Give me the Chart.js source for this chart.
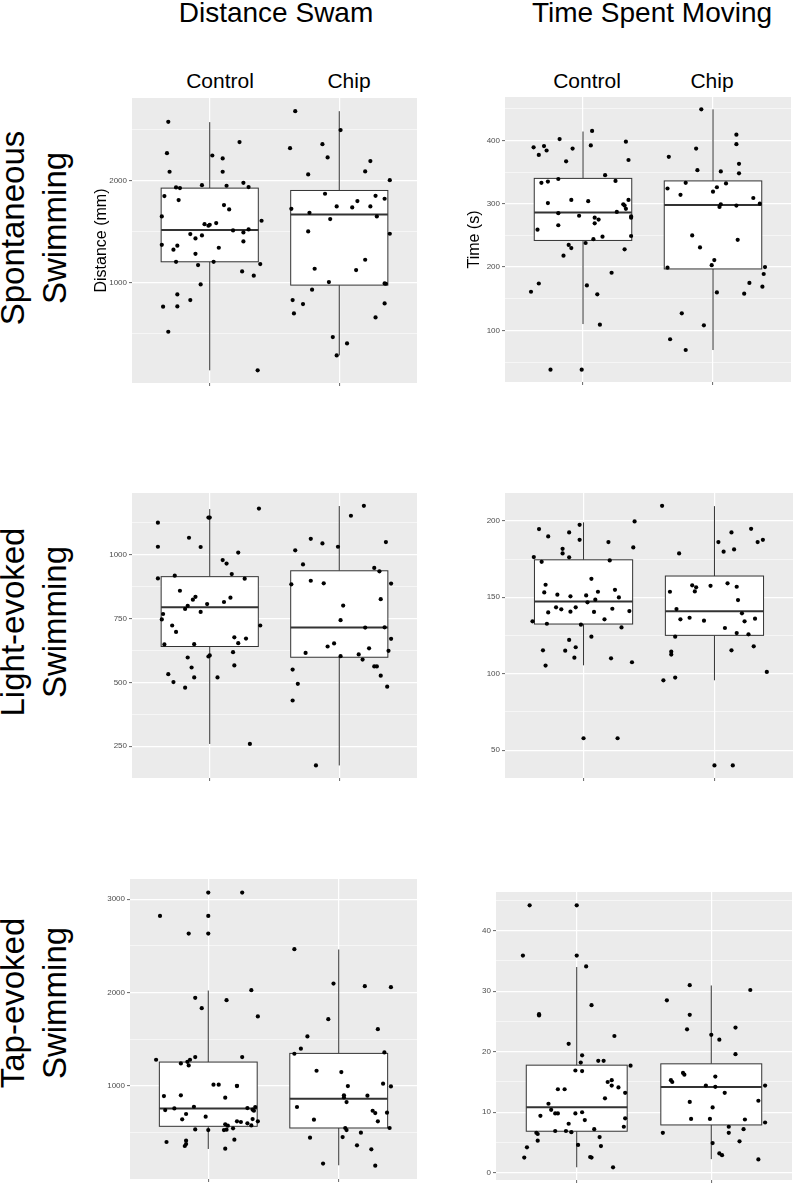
<!DOCTYPE html>
<html>
<head>
<meta charset="utf-8">
<script src="https://cdn.jsdelivr.net/npm/chart.js@4.4.0/dist/chart.umd.min.js"></script>
<style>
  body { margin: 0; background: #fff; font-family: "Liberation Sans", Arial, sans-serif; }
  #fig { position: relative; width: 800px; height: 1186px; overflow: hidden; }
  canvas { position: absolute; }
  .t { position: absolute; white-space: nowrap; color: #000; line-height: 1; transform: translateX(-50%); }
  .col { font-size: 28px; }
  .cat { font-size: 21px; }
  .row { position: absolute; font-size: 33px; line-height: 42px; text-align: center; white-space: nowrap;
         transform: translate(-50%, -50%) rotate(-90deg); }
</style>
</head>
<body>
<div id="fig">
  <div class="t col" style="left:276px; top:-1px">Distance Swam</div>
  <div class="t col" style="left:652px; top:-1px">Time Spent Moving</div>
  <div class="t cat" style="left:220px; top:70px">Control</div>
  <div class="t cat" style="left:349px; top:70px">Chip</div>
  <div class="t cat" style="left:587px; top:70px">Control</div>
  <div class="t cat" style="left:712px; top:70px">Chip</div>
  <div class="row" style="left:34px; top:228px">Spontaneous<br>Swimming</div>
  <div class="row" style="left:34px; top:622px">Light-evoked<br>Swimming</div>
  <div class="row" style="left:34px; top:1003px">Tap-evoked<br>Swimming</div>

  <canvas id="p1" width="333" height="294" style="left:88px; top:94px"></canvas>
  <canvas id="p2" width="334" height="294" style="left:461px; top:93px"></canvas>
  <canvas id="p3" width="333" height="294" style="left:88px; top:489px"></canvas>
  <canvas id="p4" width="336" height="294" style="left:461px; top:489px"></canvas>
  <canvas id="p5" width="335" height="309" style="left:86px; top:875px"></canvas>
  <canvas id="p6" width="344" height="297" style="left:452px; top:888px"></canvas>
</div>
<script>
// groups on the x axis: Control = 1, Chip = 2
const groups = ['Control', 'Chip'];
const groupPos = [1, 2];

// each point: [horizontal jitter, value]
// box stats: [lower whisker, q1, median, q3, upper whisker]

// --- Spontaneous swimming, distance (mm)
const spontDistControl = [[-0.32,2573],[-0.33,2267],[-0.31,2085],[0.02,2244],[0.10,2215],[0.23,2375],[0.10,2085],[-0.26,1932],[-0.23,1925],[-0.06,1954],[0.13,1948],[0.26,1977],[0.30,1935],[-0.35,1847],[-0.24,1808],[0.11,1759],[0.15,1717],[-0.37,1648],[-0.04,1573],[-0.01,1557],[0.00,1567],[0.05,1583],[0.40,1606],[0.18,1511],[0.26,1492],[0.30,1521],[-0.15,1476],[-0.06,1463],[-0.11,1433],[-0.37,1371],[0.26,1404],[-0.25,1362],[-0.28,1323],[0.07,1342],[-0.11,1283],[-0.26,1205],[0.03,1205],[-0.09,1173],[0.39,1183],[0.25,1111],[0.34,1069],[-0.07,984],[-0.25,886],[-0.36,766],[-0.25,769],[-0.15,831],[-0.32,521],[0.37,144]];
const spontDistChip = [[-0.34,2677],[0.01,2492],[-0.38,2316],[-0.13,2355],[-0.09,2225],[0.24,2189],[-0.24,2059],[0.20,2088],[0.39,2003],[-0.11,1870],[0.28,1850],[0.35,1821],[0.14,1798],[-0.02,1746],[0.10,1736],[0.24,1746],[-0.37,1723],[-0.23,1684],[-0.07,1622],[0.29,1648],[-0.24,1502],[0.39,1479],[-0.19,1137],[0.13,1124],[0.20,1225],[-0.08,1007],[-0.21,932],[0.36,990],[0.35,993],[-0.36,831],[-0.28,792],[-0.35,700],[0.35,798],[0.28,661],[-0.05,469],[0.06,407],[-0.02,290]];
const spontDistBoxes = [[144,1205,1515,1925,2570],[290,977,1668,1902,2677]];
const spontDistMajor = [1000, 2000];
const spontDistMinor = [500, 1500, 2500];

// --- Spontaneous swimming, time (s)
const spontTimeControl = [[-0.38,389],[-0.34,377],[-0.30,391],[-0.28,384],[-0.18,402],[0.07,415],[0.06,392],[-0.08,387],[-0.13,367],[0.33,398],[0.35,369],[-0.32,333],[-0.27,335],[-0.19,339],[0.17,345],[0.25,336],[-0.27,301],[-0.09,306],[0.04,304],[0.35,306],[0.31,299],[0.32,297],[0.33,292],[-0.19,285],[0.26,287],[-0.03,281],[0.37,280],[0.37,278],[0.09,278],[0.12,275],[0.09,269],[-0.35,259],[-0.19,266],[0.37,249],[0.15,248],[0.08,244],[-0.11,235],[-0.09,230],[-0.15,218],[0.02,238],[0.32,228],[0.22,191],[-0.40,161],[-0.34,174],[0.03,171],[0.11,157],[0.13,109],[-0.25,38],[-0.01,38]];
const spontTimeChip = [[-0.09,449],[-0.34,374],[-0.13,387],[0.18,409],[0.18,394],[0.20,363],[0.20,348],[-0.12,353],[0.06,351],[-0.35,324],[-0.25,314],[-0.21,333],[0.00,319],[0.03,326],[0.10,332],[0.31,309],[0.36,300],[0.06,299],[0.05,295],[0.18,297],[-0.16,250],[-0.10,231],[0.19,243],[0.01,211],[-0.01,203],[-0.35,199],[0.40,200],[0.39,189],[0.38,169],[0.28,175],[0.24,158],[0.03,160],[-0.24,127],[-0.07,108],[-0.33,86],[-0.21,69]];
const spontTimeBoxes = [[110,242,286,340,414],[69,197,298,336,449]];
const spontTimeMajor = [100, 200, 300, 400];
const spontTimeMinor = [50, 150, 250, 350, 450];

// --- Light-evoked swimming, distance
const lightDistControl = [[-0.40,1124],[-0.40,1030],[-0.40,906],[-0.27,917],[-0.16,1065],[-0.07,1029],[-0.01,1144],[0.00,1144],[0.38,1179],[0.10,978],[0.13,964],[0.17,923],[0.27,905],[0.22,1007],[-0.23,858],[-0.11,834],[-0.13,823],[-0.17,799],[-0.19,787],[-0.02,806],[0.11,814],[0.16,831],[-0.07,775],[-0.36,767],[-0.37,746],[-0.29,722],[-0.26,697],[-0.35,648],[-0.12,649],[0.19,676],[0.22,653],[0.28,671],[0.39,722],[0.18,618],[-0.17,597],[-0.01,601],[0.00,605],[0.19,566],[-0.32,532],[-0.14,558],[-0.12,519],[0.06,519],[-0.28,501],[-0.19,479],[0.31,259]];
const lightDistChip = [[0.19,1190],[0.09,1151],[-0.22,1061],[-0.13,1043],[-0.01,1030],[0.36,1048],[-0.34,1016],[-0.28,961],[-0.37,883],[-0.22,897],[-0.12,887],[0.27,947],[0.31,934],[0.40,886],[0.03,800],[0.32,825],[0.01,743],[0.20,714],[0.35,715],[0.40,670],[-0.09,640],[-0.04,652],[-0.26,615],[0.01,602],[0.15,609],[0.18,589],[0.23,633],[0.38,623],[0.27,562],[0.29,562],[0.32,526],[0.37,483],[-0.36,550],[-0.32,494],[-0.36,429],[-0.18,175]];
const lightDistBoxes = [[259,640,793,913,1177],[175,598,714,936,1189]];
const lightDistMajor = [250, 500, 750, 1000];
const lightDistMinor = [375, 625, 875, 1125];

// --- Light-evoked swimming, time
const lightTimeControl = [[-0.38,176.3],[-0.34,194.6],[-0.32,173.2],[-0.27,189.8],[-0.16,181.7],[-0.16,178.7],[-0.11,176.1],[-0.11,192.4],[-0.03,197.4],[-0.03,187.6],[0.19,186.1],[0.39,199.6],[0.38,182.6],[0.20,174.1],[0.06,162.1],[-0.29,158.2],[-0.30,153.2],[-0.20,151.7],[-0.10,150.6],[-0.27,140.1],[-0.28,132.7],[-0.39,134.3],[-0.21,143.4],[-0.17,142.1],[-0.10,140.6],[-0.06,143.4],[0.02,151.2],[0.03,146.7],[0.09,148.4],[0.11,153.6],[0.08,140.4],[0.16,135.6],[0.24,154.9],[0.27,149.9],[0.22,142.5],[0.35,141.0],[0.29,130.3],[-0.02,132.1],[0.06,124.2],[-0.11,122.1],[-0.31,115.3],[-0.14,115.1],[-0.06,117.3],[-0.07,110.5],[-0.29,105.3],[0.21,110.1],[0.37,107.5],[0.00,57.8],[0.26,57.8]];
const lightTimeChip = [[-0.40,209.8],[-0.27,178.7],[0.03,186.1],[0.07,179.8],[0.13,192.4],[0.15,181.3],[0.28,194.8],[0.33,186.1],[0.37,187.6],[-0.34,153.6],[-0.17,157.8],[-0.14,156.5],[-0.15,153.8],[-0.03,157.5],[0.10,159.1],[0.17,156.9],[0.18,148.2],[-0.29,142.3],[-0.26,135.6],[-0.19,136.6],[-0.08,134.7],[0.21,139.5],[0.23,134.3],[0.31,136.0],[0.08,129.9],[0.17,126.6],[0.26,125.8],[-0.30,124.2],[0.30,117.9],[-0.33,114.4],[-0.33,112.5],[0.13,115.3],[-0.30,97.5],[-0.39,95.7],[0.40,101.2],[0.00,40.0],[0.14,40.0]];
const lightTimeBoxes = [[105.5,132.5,147.3,174.5,199],[95.7,125.1,140.8,163.9,209.6]];
const lightTimeMajor = [50, 100, 150, 200];
const lightTimeMinor = [75, 125, 175];

// --- Tap-evoked swimming, distance
const tapDistControl = [[-0.37,2821],[0.00,3071],[0.26,3071],[0.00,2821],[-0.15,2632],[0.00,2632],[0.33,2025],[-0.10,1943],[0.14,1918],[-0.05,1832],[0.38,1743],[-0.40,1279],[-0.10,1307],[0.26,1307],[-0.14,1279],[-0.16,1257],[-0.21,1239],[-0.15,1218],[0.04,1011],[0.08,1011],[0.22,1000],[0.22,997],[-0.34,889],[-0.21,897],[0.13,872],[-0.11,775],[-0.26,757],[-0.33,739],[-0.17,697],[-0.02,668],[-0.20,640],[0.30,761],[0.36,772],[0.34,743],[0.35,732],[0.22,618],[0.25,611],[0.30,597],[0.34,643],[0.38,618],[0.33,575],[0.13,586],[0.15,572],[0.19,543],[-0.10,532],[0.00,525],[0.12,525],[0.14,529],[-0.32,397],[-0.17,411],[-0.17,375],[-0.18,354],[0.20,422],[0.13,325]];
const tapDistChip = [[-0.34,2464],[-0.04,2096],[0.20,2068],[0.40,2057],[-0.08,1714],[0.30,1607],[-0.24,1529],[-0.29,1397],[-0.34,1343],[0.35,1357],[-0.17,1161],[0.02,1147],[0.07,997],[0.34,1022],[0.40,993],[-0.32,772],[0.04,897],[0.04,875],[0.22,893],[0.06,825],[0.26,732],[0.28,707],[0.37,711],[-0.19,636],[0.30,618],[0.39,547],[0.05,547],[0.06,525],[0.17,497],[-0.22,443],[0.03,450],[0.14,361],[0.25,318],[-0.12,165],[0.28,143]];
const tapDistBoxes = [[322,565,757,1254,2021],[147,547,861,1347,2461]];
const tapDistMajor = [1000, 2000, 3000];
const tapDistMinor = [500, 1500, 2500];

// --- Tap-evoked swimming, time
const tapTimeControl = [[-0.35,44.2],[0.00,44.2],[-0.40,35.9],[0.00,35.9],[0.07,34.1],[-0.28,26.2],[-0.28,26.0],[0.11,27.7],[0.28,22.6],[-0.06,21.3],[0.04,19.4],[0.03,18.2],[-0.01,16.9],[0.04,16.8],[0.16,18.5],[0.20,18.5],[0.40,17.7],[0.23,15.0],[0.26,15.3],[0.26,14.4],[0.31,14.1],[-0.21,11.4],[-0.19,10.4],[-0.14,13.8],[-0.09,13.8],[0.36,13.2],[0.21,12.3],[-0.16,9.8],[-0.14,9.8],[-0.01,9.8],[0.04,10.0],[-0.27,9.4],[-0.06,8.1],[0.06,8.7],[0.36,9.0],[0.35,7.6],[0.13,7.2],[-0.16,6.9],[-0.08,6.9],[-0.04,6.7],[-0.30,6.6],[-0.29,6.4],[-0.29,5.3],[0.17,5.9],[0.18,4.4],[-0.37,4.2],[0.01,4.6],[0.10,2.6],[0.11,2.5],[-0.39,2.5],[0.27,0.9]];
const tapTimeChip = [[-0.16,31.0],[-0.33,28.5],[0.29,30.2],[-0.16,26.1],[-0.18,23.7],[0.00,22.8],[0.18,24.0],[0.06,22.0],[0.18,19.6],[-0.21,16.5],[-0.20,16.2],[-0.30,15.3],[-0.29,15.0],[-0.04,14.4],[0.03,15.9],[0.03,14.2],[0.40,14.4],[0.10,13.2],[-0.16,11.7],[0.35,11.9],[0.01,10.8],[-0.15,8.9],[-0.01,8.9],[0.25,8.8],[0.40,8.3],[0.13,7.6],[0.24,7.2],[-0.36,6.6],[0.13,6.6],[0.21,5.2],[0.01,4.9],[0.06,3.2],[0.08,2.9],[0.35,2.2]];
const tapTimeBoxes = [[0.9,6.86,10.81,17.78,34.0],[2.25,7.9,14.16,18.0,30.95]];
const tapTimeMajor = [0, 10, 20, 30, 40];
const tapTimeMinor = [5, 15, 25, 35, 45];

const FONT = '"Liberation Sans", Arial, sans-serif';
const boxHalf = 0.375;

const panelBg = {
  id: 'panelBg',
  beforeDraw(chart) {
    const { ctx, chartArea: a } = chart;
    ctx.save();
    ctx.fillStyle = '#EBEBEB';
    ctx.fillRect(a.left, a.top, a.width, a.height);
    ctx.restore();
  }
};

function toPoints(arr, pos) {
  return arr.map(([j, v]) => ({ x: pos + j, y: v }));
}

function makePanel(id, p) {
  const boxPlot = {
    id: 'boxPlot',
    beforeDatasetsDraw(chart) {
      const { ctx, scales: { x, y } } = chart;
      p.boxes.forEach((s, i) => {
        const pos = groupPos[i];
        const xl = x.getPixelForValue(pos - boxHalf);
        const xr = x.getPixelForValue(pos + boxHalf);
        const xc = x.getPixelForValue(pos);
        const [lo, q1, med, q3, hi] = s.map(v => y.getPixelForValue(v));
        ctx.save();
        ctx.strokeStyle = '#333333';
        ctx.lineWidth = 1;
        ctx.beginPath();
        ctx.moveTo(xc, lo); ctx.lineTo(xc, q1);
        ctx.moveTo(xc, q3); ctx.lineTo(xc, hi);
        ctx.stroke();
        ctx.fillStyle = '#ffffff';
        ctx.fillRect(xl, q3, xr - xl, q1 - q3);
        ctx.strokeRect(xl, q3, xr - xl, q1 - q3);
        ctx.lineWidth = 2;
        ctx.beginPath();
        ctx.moveTo(xl, med); ctx.lineTo(xr, med);
        ctx.stroke();
        ctx.restore();
      });
    }
  };

  const allTicks = [...p.major, ...p.minor].sort((a, b) => a - b);
  const isMajor = v => p.major.includes(v);

  new Chart(document.getElementById(id), {
    type: 'scatter',
    data: {
      datasets: [
        { label: groups[0], data: toPoints(p.control, groupPos[0]) },
        { label: groups[1], data: toPoints(p.chip, groupPos[1]) }
      ]
    },
    options: {
      responsive: false,
      animation: false,
      devicePixelRatio: 1,
      events: [],
      layout: { padding: { top: 4, left: 0, right: 0, bottom: 0 } },
      elements: {
        point: { radius: 2.1, backgroundColor: '#000', borderWidth: 0, borderColor: '#000' }
      },
      plugins: { legend: { display: false }, tooltip: { enabled: false } },
      scales: {
        x: {
          type: 'linear', min: 0.4, max: 2.6,
          afterBuildTicks: s => { s.ticks = groupPos.map(v => ({ value: v })); },
          ticks: { callback: () => '', autoSkip: false },
          grid: { color: '#ffffff', lineWidth: 1.2, tickColor: '#666', tickLength: 3, tickWidth: 1 },
          border: { display: false },
          afterFit: s => { s.height = 5; s.paddingLeft = 0; s.paddingRight = 0; }
        },
        y: {
          min: p.min, max: p.max,
          afterBuildTicks: s => { s.ticks = allTicks.map(v => ({ value: v })); },
          ticks: {
            autoSkip: false, padding: 2, color: '#4d4d4d',
            font: { size: 8, family: FONT },
            callback: v => isMajor(v) ? String(v) : ''
          },
          grid: {
            color: '#ffffff',
            lineWidth: c => isMajor(c.tick.value) ? 1.2 : 0.55,
            tickColor: c => isMajor(c.tick.value) ? '#666' : 'rgba(0,0,0,0)',
            tickLength: 3, tickWidth: 1
          },
          border: { display: false },
          title: {
            display: !!p.title, text: p.title || '', color: '#000',
            font: { size: 16, family: FONT }, padding: { top: 4, bottom: 4 }
          },
          afterFit: s => { s.width = 44; s.paddingTop = 0; s.paddingBottom = 0; }
        }
      }
    },
    plugins: [panelBg, boxPlot]
  });
}

makePanel('p1', { control: spontDistControl, chip: spontDistChip, boxes: spontDistBoxes,
  major: spontDistMajor, minor: spontDistMinor, min: 20, max: 2806, title: 'Distance (mm)' });
makePanel('p2', { control: spontTimeControl, chip: spontTimeChip, boxes: spontTimeBoxes,
  major: spontTimeMajor, minor: spontTimeMinor, min: 18.5, max: 468.5, title: 'Time (s)' });
makePanel('p3', { control: lightDistControl, chip: lightDistChip, boxes: lightDistBoxes,
  major: lightDistMajor, minor: lightDistMinor, min: 126, max: 1240 });
makePanel('p4', { control: lightTimeControl, chip: lightTimeChip, boxes: lightTimeBoxes,
  major: lightTimeMajor, minor: lightTimeMinor, min: 31.8, max: 218.2 });
makePanel('p5', { control: tapDistControl, chip: tapDistChip, boxes: tapDistBoxes,
  major: tapDistMajor, minor: tapDistMinor, min: 0, max: 3217 });
makePanel('p6', { control: tapTimeControl, chip: tapTimeChip, boxes: tapTimeBoxes,
  major: tapTimeMajor, minor: tapTimeMinor, min: -1.2, max: 46.4 });
</script>
</body>
</html>
